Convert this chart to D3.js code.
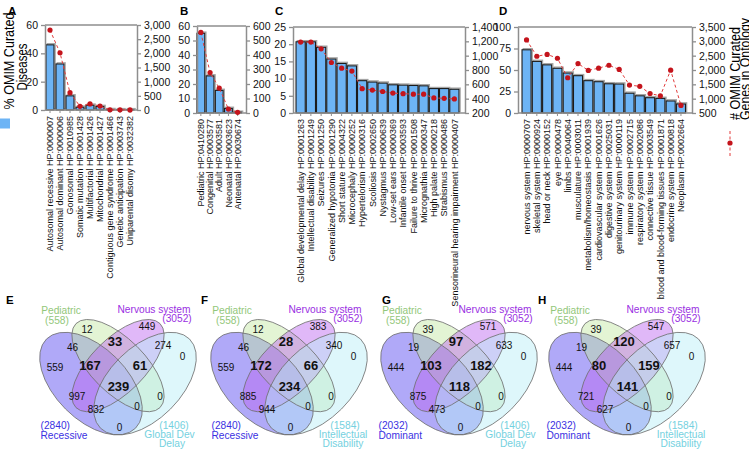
<!DOCTYPE html>
<html><head><meta charset="utf-8">
<script src="https://cdn.jsdelivr.net/npm/d3@7"></script>
<style>body{margin:0;background:#fff} svg{display:block;font-family:"Liberation Sans",Arial,sans-serif}</style>
</head><body><svg id="c" width="749" height="471"></svg>
<script>
// ---------- DATA ----------
const inheritanceLabels = ["Autosomal recessive HP:0000007","Autosomal dominant HP:0000006","Gonosomal HP:0010985","Somatic mutation HP:0001428","Multifactorial HP:0001426","Mitochondrial HP:0001427","Contiguous gene syndrome HP:0001466","Genetic anticipation HP:0003743","Uniparental disomy HP:0032382"];
const inheritancePct = [46, 32.5, 10, 2, 3.4, 2.5, 0.3, 0.2, 0.2];
const inheritanceGenes = [2820, 2020, 610, 130, 215, 140, 8, 5, 3];

const onsetLabels = ["Pediatric HP:0410280","Congenital HP:0003577","Adult HP:0003581","Neonatal HP:0003623","Antenatal HP:0030674"];
const onsetPct = [55, 25.6, 15.6, 3.2, 0.5];
const onsetGenes = [556, 279, 172, 27, 5];

const phenotypeLabels = ["Global developmental delay HP:0001263","Intellectual disability HP:0001249","Seizures HP:0001250","Generalized hypotonia HP:0001290","Short stature HP:0004322","Microcephaly HP:0000252","Hypertelorism HP:0000316","Scoliosis HP:0002650","Nystagmus HP:0000639","Low-set ears HP:0000369","Infantile onset HP:0003593","Failure to thrive HP:0001508","Micrognathia HP:0000347","High palate HP:0000218","Strabismus HP:0000486","Sensorineural hearing impairment HP:0000407"];
const phenotypePct = [20.7, 20.7, 19.1, 15.7, 14.4, 13.7, 9.4, 9.0, 8.7, 8.2, 8.1, 8.0, 7.9, 7.1, 7.1, 6.9];
const phenotypeGenes = [1190, 1190, 1095, 905, 826, 785, 540, 520, 500, 478, 470, 462, 462, 410, 405, 396];

const systemLabels = ["nervous system HP:0000707","skeletal system HP:0000924","head or neck HP:0000152","eye HP:0000478","limbs HP:0040064","musculature HP:0003011","metabolism/homeostasis HP:0001939","cardiovascular system HP:0001626","digestive system HP:0025031","genitourinary system HP:0000119","immune system HP:0002715","respiratory system HP:0002086","connective tissue HP:0003549","blood and blood-forming tissues HP:0001871","endocrine system HP:0000818","Neoplasm HP:0002664"];
const systemPct = [73.5, 60, 56, 52, 46.5, 43.4, 37.6, 36.4, 34, 33.7, 23, 20, 17.8, 17, 14, 10.5];
const systemGenes = [3050, 2480, 2545, 2410, 1730, 2225, 1985, 2065, 2165, 2020, 1475, 1430, 1180, 1100, 1995, 765];

const leftAxisTitle = ["% OMIM Curated", "Diseases"];
const rightAxisTitle = ["# OMIM Curated", "Genes in Ontology"];

// Venn: regions A=left set, B=Pediatric, C=Nervous system, D=right set
const vennRegions = ["A","B","C","D","AB","BC","CD","AC","BD","ABC","BCD","ACD","ABD","AD","ABCD"];
const vennLetters = ["E","F","G","H"];
const vennLeftName = ["Recessive","Recessive","Dominant","Dominant"];
const vennLeftSize = [2840, 2840, 2032, 2032];
const vennRightName = [["Global Dev","Delay"],["Intellectual","Disability"],["Global Dev","Delay"],["Intellectual","Disability"]];
const vennRightSize = [1406, 1584, 1406, 1584];
const vennPediatricSize = 558;
const vennNervousSize = 3052;
const vennE = [559, 12, 449, 0, 46, 33, 274, 997, 0, 167, 61, 832, 0, 0, 239];
const vennF = [559, 12, 383, 0, 46, 28, 340, 885, 0, 172, 66, 944, 0, 0, 234];
const vennG = [444, 39, 571, 0, 19, 97, 633, 875, 0, 103, 182, 473, 0, 0, 118];
const vennH = [444, 39, 547, 0, 19, 120, 657, 721, 0, 80, 159, 627, 0, 0, 141];
const vennCounts = [vennE, vennF, vennG, vennH];

// ---------- DRAW ----------
const svg = d3.select("#c");
const AX = "#8e8e8e";
const BAR = "#6db4f5";
const DOT = "#c4141c";
const DASH = "#e23b3b";

function styleAxis(a){
  a.select(".domain").attr("stroke", AX).attr("stroke-width", 1.5);
  a.selectAll(".tick line").attr("stroke", AX).attr("stroke-width", 1.3);
  a.selectAll(".tick text").attr("fill", "#111").style("font-size", "10.5px");
}

function panel(cfg, labels, pct, genes){
  const g = svg.append("g");
  const x = d3.scaleBand().domain(labels).range([cfg.bx0, cfg.bx1]).paddingInner(cfg.pad).paddingOuter(0.05);
  const yL = d3.scaleLinear().domain([0, cfg.lMax]).range([cfg.yBot, cfg.yTop]);
  const yR = d3.scaleLinear().domain([cfg.rMin, cfg.rMax]).range([cfg.yBot, cfg.yTop]);

  g.append("line").attr("x1", cfg.x0).attr("x2", cfg.x1).attr("y1", cfg.yTop).attr("y2", cfg.yTop).attr("stroke", AX).attr("stroke-width", 1.5);

  g.selectAll("rect.sh").data(pct).join("rect").attr("class","sh")
    .attr("x", (d,i) => x(labels[i]) + 1.2).attr("y", d => yL(d) - 1.2)
    .attr("width", x.bandwidth()).attr("height", d => cfg.yBot - yL(d))
    .attr("fill", "none").attr("stroke", "#a4a4a4").attr("stroke-width", 1.2);
  g.selectAll("rect.bar").data(pct).join("rect").attr("class","bar")
    .attr("x", (d,i) => x(labels[i])).attr("y", d => yL(d))
    .attr("width", x.bandwidth()).attr("height", d => cfg.yBot - yL(d))
    .attr("fill", BAR).attr("stroke", "#1c1c1c").attr("stroke-width", 1.1);

  const la = g.append("g").attr("transform", `translate(${cfg.x0},0)`)
    .call(d3.axisLeft(yL).tickValues(d3.range(0, cfg.lMax + 1e-9, cfg.lStep)).tickSize(4).tickSizeOuter(0).tickPadding(3));
  styleAxis(la);
  const ra = g.append("g").attr("transform", `translate(${cfg.x1},0)`)
    .call(d3.axisRight(yR).tickValues(d3.range(cfg.rMin, cfg.rMax + 1e-9, cfg.rStep)).tickFormat(d3.format(",")).tickSize(4).tickSizeOuter(0).tickPadding(3));
  styleAxis(ra);
  const ba = g.append("g").attr("transform", `translate(0,${cfg.yBot})`)
    .call(d3.axisBottom(x).tickSize(3).tickSizeOuter(0));
  ba.select(".domain").remove();
  ba.selectAll(".tick line").attr("stroke", AX).attr("stroke-width", 1);
  ba.selectAll(".tick text").attr("fill", "#111").style("font-size", "9px")
    .attr("transform", "rotate(-90)").attr("x", -6).attr("y", 0).attr("dy", "0.35em").style("text-anchor", "end");
  g.append("line").attr("x1", cfg.x0).attr("x2", cfg.x1).attr("y1", cfg.yBot).attr("y2", cfg.yBot).attr("stroke", AX).attr("stroke-width", 1.5);

  const cx = (d,i) => x(labels[i]) + x.bandwidth()/2;
  g.append("path").datum(genes)
    .attr("d", d3.line().x(cx).y(d => yR(d)))
    .attr("fill", "none").attr("stroke", DASH).attr("stroke-width", 1).attr("stroke-dasharray", "3,2.5");
  g.selectAll("circle").data(genes).join("circle")
    .attr("cx", cx).attr("cy", d => yR(d)).attr("r", 2.6).attr("fill", DOT);

  svg.append("text").attr("x", cfg.lx).attr("y", 15).text(cfg.letter)
    .style("font-weight", "bold").style("font-size", "11.5px").attr("fill", "#000");
}

panel({letter:"A", lx:8, x0:45, x1:137, bx0:45.5, bx1:134.5, pad:0.2, yTop:25, yBot:110, lMax:60, lStep:20, rMin:0, rMax:3000, rStep:500}, inheritanceLabels, inheritancePct, inheritanceGenes);
panel({letter:"B", lx:180, x0:197, x1:246, bx0:196.5, bx1:242, pad:0.15, yTop:26, yBot:113, lMax:60, lStep:10, rMin:0, rMax:600, rStep:100}, onsetLabels, onsetPct, onsetGenes);
panel({letter:"C", lx:275, x0:293, x1:465, bx0:295.5, bx1:459.5, pad:0.1, yTop:27, yBot:113, lMax:25, lStep:5, rMin:200, rMax:1400, rStep:200}, phenotypeLabels, phenotypePct, phenotypeGenes);
panel({letter:"D", lx:499, x0:518, x1:692, bx0:521.5, bx1:686, pad:0.12, yTop:27, yBot:113, lMax:100, lStep:25, rMin:500, rMax:3500, rStep:500}, systemLabels, systemPct, systemGenes);

svg.append("text").attr("transform", "translate(13.5,61) rotate(-90)").attr("text-anchor", "middle")
  .style("font-size", "14.5px").attr("textLength", 97).attr("lengthAdjust", "spacingAndGlyphs").text(leftAxisTitle[0]);
svg.append("text").attr("transform", "translate(26.5,67) rotate(-90)").attr("text-anchor", "middle")
  .style("font-size", "14.5px").attr("textLength", 47).attr("lengthAdjust", "spacingAndGlyphs").text(leftAxisTitle[1]);
svg.append("text").attr("transform", "translate(739.5,120) rotate(-90)").attr("text-anchor", "start")
  .style("font-size", "14.5px").attr("textLength", 93).attr("lengthAdjust", "spacingAndGlyphs").text(rightAxisTitle[0]);
svg.append("text").attr("transform", "translate(749.5,120) rotate(-90)").attr("text-anchor", "start")
  .style("font-size", "14.5px").attr("textLength", 102).attr("lengthAdjust", "spacingAndGlyphs").text(rightAxisTitle[1]);

svg.append("rect").attr("x", 0).attr("y", 118.5).attr("width", 10).attr("height", 10).attr("fill", BAR);
svg.append("line").attr("x1", 730).attr("x2", 730).attr("y1", 131).attr("y2", 157).attr("stroke", DASH).attr("stroke-width", 1).attr("stroke-dasharray", "3,2.5");
svg.append("circle").attr("cx", 730).attr("cy", 143).attr("r", 2.6).attr("fill", DOT);

// ---------- VENN ----------
const vennDx = [0, 171, 341, 509];
const U = 180, CX0 = 118, CY0 = 317;
const ux = u => CX0 + (u - 0.5) * U;
const vy = v => CY0 + (0.84 - v) * U;
const ellipses = [
  {u:0.35, v:0.47, a:0.35, b:0.20, rot:45,  fill:"#5849f0", op:0.47},
  {u:0.50, v:0.57, a:0.33, b:0.15, rot:45,  fill:"#c0e6a0", op:0.45},
  {u:0.50, v:0.57, a:0.33, b:0.15, rot:-45, fill:"#bb62f0", op:0.45},
  {u:0.65, v:0.47, a:0.35, b:0.20, rot:-45, fill:"#b6eef6", op:0.45}
];
const regionPos = {A:[55,367], B:[87,329.5], C:[147,326.5], D:[182.5,356], AB:[72.5,347.5], BC:[115,341], CD:[163,345.5],
  AC:[77,396], BD:[160,396], ABC:[90,365], BCD:[140,365.5], ACD:[96,409.5], ABD:[137,406.5], AD:[119.5,427], ABCD:[118.5,386]};
const boldRegions = new Set(["BC","ABC","BCD","ABCD"]);

vennLetters.forEach((L, p) => {
  const g = svg.append("g").attr("transform", `translate(${vennDx[p]},0)`);
  ellipses.forEach(e => {
    g.append("ellipse").attr("cx", ux(e.u)).attr("cy", vy(e.v)).attr("rx", e.a * U).attr("ry", e.b * U)
      .attr("transform", `rotate(${e.rot},${ux(e.u)},${vy(e.v)})`)
      .attr("fill", e.fill).attr("fill-opacity", e.op).attr("stroke", "none");
  });
  ellipses.forEach(e => {
    g.append("ellipse").attr("cx", ux(e.u)).attr("cy", vy(e.v)).attr("rx", e.a * U).attr("ry", e.b * U)
      .attr("transform", `rotate(${e.rot},${ux(e.u)},${vy(e.v)})`)
      .attr("fill", "none").attr("stroke", "#707070").attr("stroke-width", 0.8);
  });
  vennRegions.forEach((r, i) => {
    const pos = regionPos[r];
    const b = boldRegions.has(r);
    g.append("text").attr("x", pos[0]).attr("y", pos[1]).attr("dy", "0.35em").attr("text-anchor", "middle")
      .style("font-size", b ? "13px" : "10px").style("font-weight", b ? "bold" : "normal").attr("fill", "#111")
      .text(vennCounts[p][i]);
  });
  const lab = (x, y, t, col, anchor) => g.append("text").attr("x", x).attr("y", y).attr("dy", "0.35em")
    .attr("text-anchor", anchor || "middle").style("font-size", "10.2px").attr("fill", col).text(t);
  lab(61, 310.5, "Pediatric", "#92c77a");
  lab(57, 320.5, `(${vennPediatricSize})`, "#92c77a");
  lab(154, 309, "Nervous system", "#9a2fe2");
  lab(177, 318.5, `(${vennNervousSize})`, "#9a2fe2");
  lab(p < 2 ? 40.5 : 37.5, 425.3, `(${vennLeftSize[p]})`, "#3a31e2", "start");
  lab(p < 2 ? 40.5 : 37.5, 435.5, vennLeftName[p], "#3a31e2", "start");
  lab(174, 425, `(${vennRightSize[p]})`, "#74d1e0");
  lab(p % 2 ? 172 : 169.5, 434.5, vennRightName[p][0], "#74d1e0");
  lab(172, 443.5, vennRightName[p][1], "#74d1e0");
  svg.append("text").attr("x", [6, 201, 382, 538][p]).attr("y", 304).text(L)
    .style("font-weight", "bold").style("font-size", "11.5px").attr("fill", "#000");
});
</script></body></html>
